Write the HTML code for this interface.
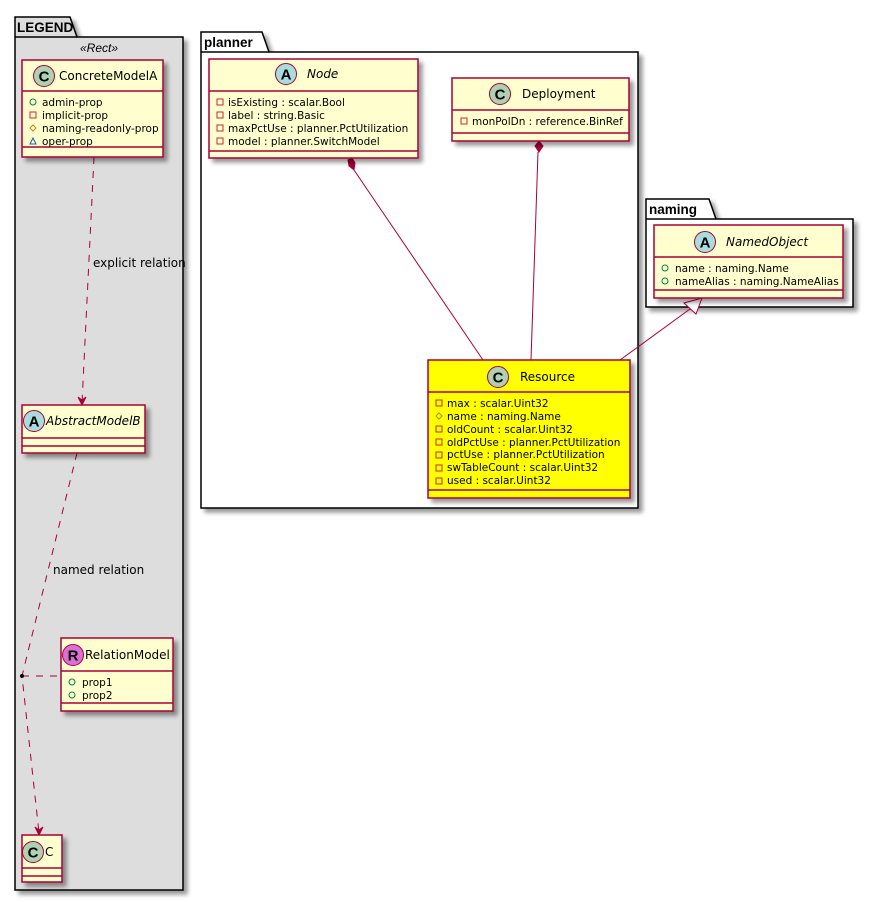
<!DOCTYPE html>
<html><head><meta charset="utf-8"><style>
html,body{margin:0;padding:0;background:#fff;}
svg{display:block;font-family:"DejaVu Sans","Liberation Sans",sans-serif;}
</style></head><body>
<svg width="873" height="902" viewBox="0 0 873 902" xmlns="http://www.w3.org/2000/svg">
<defs>
<filter id="sh" x="-10%" y="-10%" width="130%" height="130%"><feGaussianBlur in="SourceAlpha" stdDeviation="2"/><feOffset dx="4" dy="4"/><feComponentTransfer><feFuncA type="linear" slope="0.4"/></feComponentTransfer><feMerge><feMergeNode/><feMergeNode in="SourceGraphic"/></feMerge></filter>
</defs>

<g filter="url(#sh)">
<path d="M15,37 L15,17 L70,17 L77,37 L183,37 L183,890 L15,890 Z" fill="#DDDDDD" stroke="#000" stroke-width="1.5"/>
</g>
<line x1="15" y1="37" x2="77" y2="37" stroke="#000" stroke-width="1.5"/>
<text x="17" y="32" font-size="13.5" font-weight="bold" font-family="Liberation Sans, sans-serif">LEGEND</text>
<text x="99" y="52" font-size="12" font-style="italic" text-anchor="middle" font-family="Liberation Sans, sans-serif">«Rect»</text>

<g filter="url(#sh)">
<path d="M201,52 L201,32 L262,32 L269,52 L638,52 L638,508 L201,508 Z" fill="#fff" stroke="#000" stroke-width="1.5"/>
</g>
<line x1="201" y1="52" x2="269" y2="52" stroke="#000" stroke-width="1.5"/>
<text x="204" y="47" font-size="13.5" font-weight="bold" font-family="Liberation Sans, sans-serif">planner</text>

<g filter="url(#sh)">
<path d="M646,219 L646,199 L709,199 L716,219 L853,219 L853,307 L646,307 Z" fill="#fff" stroke="#000" stroke-width="1.5"/>
</g>
<line x1="646" y1="219" x2="716" y2="219" stroke="#000" stroke-width="1.5"/>
<text x="649" y="214" font-size="13.5" font-weight="bold" font-family="Liberation Sans, sans-serif">naming</text>

<g stroke="#A80036" fill="none" stroke-width="1">
<path d="M94,157 L82,403" stroke-dasharray="7,7"/>
<path d="M77,453 L22,676 L39,833" stroke-dasharray="7,7"/>
<path d="M22,676 L61,676" stroke-dasharray="7,7"/>
<path d="M354,170 L483,360"/>
<path d="M538,152 L531,360"/>
<path d="M620,360 L690,309"/>
</g>
<circle cx="22" cy="676" r="2" fill="#000"/>
<path d="M78,397 L82,405 L86,397 L82,400 Z" fill="#A80036" stroke="#A80036"/>
<path d="M35,827 L39,835 L43,827 L39,830 Z" fill="#A80036" stroke="#A80036"/>
<path d="M348,160 L352,158 L355,163 L354,170 L349,166 Z" fill="#A80036" stroke="#A80036"/>
<path d="M539,141 L543,146 L539,152 L535,146 Z" fill="#A80036" stroke="#A80036"/>
<path d="M702,298 L696,314 L684,303 Z" fill="#fff" stroke="#A80036"/>
<text x="93" y="267" font-size="12" fill="#000">explicit relation</text>
<text x="53" y="574" font-size="12" fill="#000">named relation</text>

<g filter="url(#sh)" stroke="#A80036" stroke-width="1.5" fill="#FEFECE">
<rect x="22" y="60" width="141" height="97"/>
<rect x="22" y="405" width="123" height="48"/>
<rect x="61" y="638" width="112" height="73"/>
<rect x="22" y="835" width="40" height="47"/>
<rect x="209" y="59" width="209" height="99"/>
<rect x="452" y="78" width="177" height="63"/>
<rect x="428" y="360" width="202" height="138" fill="#FFFF00"/>
<rect x="654" y="225" width="189" height="73"/>
</g>
<g stroke="#A80036" stroke-width="1.5">
<line x1="22" y1="91" x2="163" y2="91"/><line x1="22" y1="147" x2="163" y2="147"/>
<line x1="22" y1="438" x2="145" y2="438"/><line x1="22" y1="446" x2="145" y2="446"/>
<line x1="61" y1="671" x2="173" y2="671"/><line x1="61" y1="703" x2="173" y2="703"/>
<line x1="22" y1="868" x2="62" y2="868"/><line x1="22" y1="876" x2="62" y2="876"/>
<line x1="209" y1="91" x2="418" y2="91"/><line x1="209" y1="151" x2="418" y2="151"/>
<line x1="452" y1="110" x2="629" y2="110"/><line x1="452" y1="133" x2="629" y2="133"/>
<line x1="428" y1="392" x2="630" y2="392"/><line x1="428" y1="490" x2="630" y2="490"/>
<line x1="654" y1="257" x2="843" y2="257"/><line x1="654" y1="290" x2="843" y2="290"/>
</g>

<g stroke="#A80036" stroke-width="1">
<circle cx="44" cy="76" r="10.5" fill="#ADD1B2"/>
<circle cx="34" cy="421" r="10.5" fill="#A9DCDF"/>
<circle cx="73" cy="655" r="10.5" fill="#DA70D6"/>
<circle cx="33" cy="852" r="10.5" fill="#ADD1B2"/>
<circle cx="286" cy="74" r="10.5" fill="#A9DCDF"/>
<circle cx="500" cy="94" r="10.5" fill="#ADD1B2"/>
<circle cx="498" cy="377" r="10.5" fill="#ADD1B2"/>
<circle cx="705" cy="242" r="10.5" fill="#A9DCDF"/>
</g>
<g font-size="15" font-weight="bold" text-anchor="middle" font-family="Liberation Sans, sans-serif">
<text x="44" y="81.5">C</text><text x="34" y="426.5">A</text><text x="73" y="660.5">R</text><text x="33" y="857.5">C</text>
<text x="286" y="79.5">A</text><text x="500" y="99.5">C</text><text x="498" y="382.5">C</text><text x="705" y="247.5">A</text>
</g>

<g font-size="12" fill="#000">
<text x="59" y="80">ConcreteModelA</text>
<text x="46" y="425" font-style="italic">AbstractModelB</text>
<text x="85" y="659">RelationModel</text>
<text x="45" y="856">C</text>
<text x="307" y="78" font-style="italic">Node</text>
<text x="522" y="98">Deployment</text>
<text x="520" y="381">Resource</text>
<text x="726" y="246" font-style="italic">NamedObject</text>
</g>

<g font-size="10.5" fill="#000">
<text x="42" y="106">admin-prop</text>
<text x="42" y="119">implicit-prop</text>
<text x="42" y="132">naming-readonly-prop</text>
<text x="42" y="145">oper-prop</text>
<text x="82" y="686">prop1</text>
<text x="82" y="699">prop2</text>
<text x="228" y="106">isExisting : scalar.Bool</text>
<text x="228" y="119">label : string.Basic</text>
<text x="228" y="132">maxPctUse : planner.PctUtilization</text>
<text x="228" y="145">model : planner.SwitchModel</text>
<text x="472" y="125">monPolDn : reference.BinRef</text>
<text x="447" y="407">max : scalar.Uint32</text>
<text x="447" y="420">name : naming.Name</text>
<text x="447" y="433">oldCount : scalar.Uint32</text>
<text x="447" y="446">oldPctUse : planner.PctUtilization</text>
<text x="447" y="458">pctUse : planner.PctUtilization</text>
<text x="447" y="471">swTableCount : scalar.Uint32</text>
<text x="447" y="484">used : scalar.Uint32</text>
<text x="675" y="272">name : naming.Name</text>
<text x="675" y="285">nameAlias : naming.NameAlias</text>
</g>

<g fill="none" stroke-width="1">
<circle cx="33" cy="102" r="3" stroke="#038048"/>
<rect x="30" y="112" width="6" height="6" stroke="#C82930"/>
<path d="M33,125 L36,128 L33,131 L30,128 Z" stroke="#B38D22"/>
<path d="M30,144 L33,138 L36,144 Z" stroke="#1963A0"/>
<circle cx="72" cy="682" r="3" stroke="#038048"/>
<circle cx="72" cy="695" r="3" stroke="#038048"/>
<g stroke="#C82930">
<rect x="217" y="99" width="6" height="6"/><rect x="217" y="112" width="6" height="6"/>
<rect x="217" y="125" width="6" height="6"/><rect x="217" y="138" width="6" height="6"/>
<rect x="461" y="118" width="6" height="6"/>
<rect x="436" y="400" width="6" height="6"/>
<rect x="436" y="426" width="6" height="6"/><rect x="436" y="439" width="6" height="6"/>
<rect x="436" y="452" width="6" height="6"/><rect x="436" y="465" width="6" height="6"/>
<rect x="436" y="478" width="6" height="6"/>
</g>
<path d="M439,413 L442,416 L439,419 L436,416 Z" stroke="#B38D22"/>
<circle cx="665" cy="268" r="3" stroke="#038048"/>
<circle cx="665" cy="281" r="3" stroke="#038048"/>
</g>
</svg>
</body></html>
